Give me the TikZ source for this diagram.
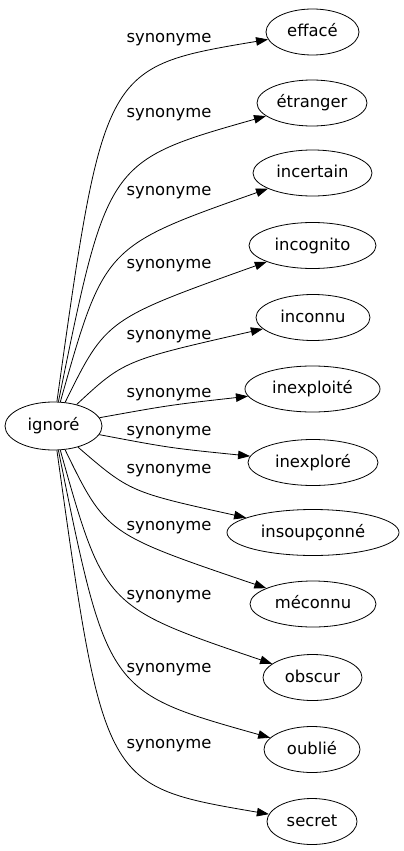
\documentclass[tikz,border=0pt]{standalone}
\usepackage{fontspec}
\setmainfont{DejaVu Sans}
\usetikzlibrary{arrows.meta,shapes.geometric}
\tikzset{
  wordnode/.style={draw, ellipse, inner sep=0pt, minimum height=46pt, line width=.8pt, text height=12.5pt, text depth=3.5pt, font=\fontsize{16.4}{19}\selectfont},
  synwire/.style={line width=.8pt, -{Triangle[length=12pt,width=8.5pt]}},
  synlabel/.style={font=\fontsize{16.4}{19}\selectfont}
}

\begin{document}
\begin{tikzpicture}[x=1pt,y=-1pt]
    \useasboundingbox (0,0) rectangle (404,851);
    \node[wordnode, minimum width=97pt, minimum height=48pt] (ign) at (53.5,426) {ignoré};

    \node[wordnode, minimum width=93pt]  (eff)    at (312.5,32)    {effacé};
    \node[wordnode, minimum width=110pt] (etr)    at (312,103)     {étranger};
    \node[wordnode, minimum width=119pt] (incer)  at (312.5,173)   {incertain};
    \node[wordnode, minimum width=127pt] (incog)  at (312.5,245.5) {incognito};
    \node[wordnode, minimum width=114pt] (incon)  at (313,317.5)   {inconnu};
    \node[wordnode, minimum width=135pt] (inexpt) at (312.5,389)   {inexploité};
    \node[wordnode, minimum width=130pt] (inexpr) at (313,462.5)   {inexploré};
    \node[wordnode, minimum width=172pt] (insoup) at (313,532.5)   {insoupçonné};
    \node[wordnode, minimum width=126pt] (mecon)  at (313,604)     {méconnu};
    \node[wordnode, minimum width=99pt]  (obsc)   at (312.5,677.5) {obscur};
    \node[wordnode, minimum width=96pt]  (oubl)   at (312,749.5)   {oublié};
    \node[wordnode, minimum width=90pt]  (secr)   at (312,821.5)   {secret};

    \draw[synwire] (ign) .. controls (103.7,67) .. (eff);
    \draw[synwire] (ign) .. controls (107.3,161) .. (etr);
    \draw[synwire] (ign) .. controls (104.3,246.3) .. (incer);
    \draw[synwire] (ign) .. controls (106.1,319.2) .. (incog);
    \draw[synwire] (ign) .. controls (124,360.5) .. (incon);
    \draw[synwire] (ign) .. controls (170,405) .. (inexpt);
    \draw[synwire] (ign) .. controls (170,448) .. (inexpr);
    \draw[synwire] (ign) .. controls (130,492) .. (insoup);
    \draw[synwire] (ign) .. controls (106.1,533.8) .. (mecon);
    \draw[synwire] (ign) .. controls (104.3,606.7) .. (obsc);
    \draw[synwire] (ign) .. controls (107.3,692) .. (oubl);
    \draw[synwire] (ign) .. controls (103.7,786) .. (secr);

    \node[synlabel] (s1)  at (169,40)  {synonyme};
    \node[synlabel] (s2)  at (169,115) {synonyme};
    \node[synlabel] (s3)  at (169,193) {synonyme};
    \node[synlabel] (s4)  at (169,266) {synonyme};
    \node[synlabel] (s5)  at (169,337) {synonyme};
    \node[synlabel] (s6)  at (169,395) {synonyme};
    \node[synlabel] (s7)  at (169,433) {synonyme};
    \node[synlabel] (s8)  at (169,471) {synonyme};
    \node[synlabel] (s9)  at (169,528) {synonyme};
    \node[synlabel] (s10) at (169,597) {synonyme};
    \node[synlabel] (s11) at (169,670) {synonyme};
    \node[synlabel] (s12) at (169,746) {synonyme};
\end{tikzpicture}
\end{document}
